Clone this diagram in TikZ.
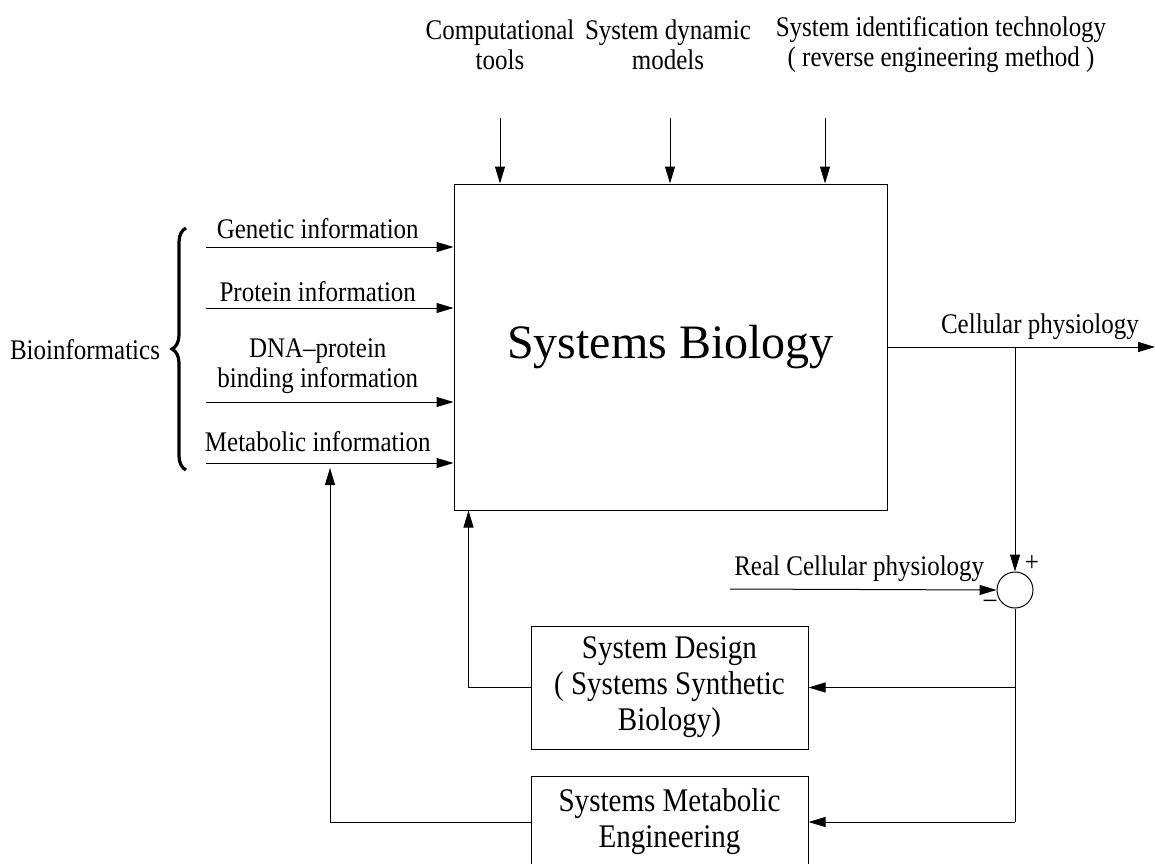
\documentclass[tikz,border=0pt]{standalone}
\usepackage{fontspec}
\setmainfont{Liberation Serif}
\newfontfamily\narrowserif{Liberation Serif}[FakeStretch=0.88, Ligatures=TeX]
\usetikzlibrary{arrows.meta, positioning, decorations.pathreplacing}

\begin{document}
\begin{tikzpicture}[x=0.5pt, y=-0.5pt, line width=0.5pt,
  >={Triangle[length=8.5pt, width=5pt]},
  lbl/.style={font=\narrowserif\fontsize{14.2}{15}\selectfont, align=center, inner sep=0pt},
  blk/.style={draw, inner sep=0pt, align=center, minimum width=138.5pt, font=\narrowserif\fontsize{16.5}{18}\selectfont}]
\clip (0,0) rectangle (1155,863);
\node[draw, inner sep=0pt, minimum width=216.5pt, minimum height=163pt, font=\fontsize{24}{28}\selectfont] (sysbio) at (670.5,347) {Systems Biology};

% inputs from the top
\node[lbl] (comp) at (500,45) {Computational\\tools};
\node[lbl] (dyn) at (668,45) {System dynamic\\models};
\node[lbl] (ident) at (941,45) {System identification technology\\( reverse engineering method )};
\coordinate (t1) at (500,118);
\coordinate (t2) at (670,118);
\coordinate (t3) at (825,118);
\draw [->] (t1) -- (t1 |- sysbio.north); 
\draw [->] (t2) -- (t2 |- sysbio.north); 
\draw [->] (t3) -- (t3 |- sysbio.north); 

% bioinformatics inputs
\coordinate (g1) at (206,247);
\coordinate (g2) at (206,308);
\coordinate (g3) at (206,402);
\coordinate (g4) at (206,463);
\draw [->] (g1) -- (g1 -| sysbio.west) node[lbl, midway, anchor=base, xshift=-6pt, yshift=4.5pt] {Genetic information};
\draw [->] (g2) -- (g2 -| sysbio.west) node[lbl, midway, anchor=base, xshift=-6pt, yshift=3.5pt] {Protein information};
\draw [->] (g3) -- (g3 -| sysbio.west) node[lbl, midway, xshift=-6pt, yshift=18pt] {DNA–protein\\binding information};
\draw [->] (g4) -- (g4 -| sysbio.west) node[lbl, midway, anchor=base, xshift=-6pt, yshift=6pt] {Metabolic information};
\draw [decorate, decoration={brace, amplitude=7pt}, line width=1.6pt] (186,470) -- (186,228);
\node[lbl] (bioinf) at (85,350) {Bioinformatics};

% output and comparison
\coordinate (out) at (1155,347);
\coordinate (tap) at (1015,347);
\draw [->] (sysbio.east) -- (out) node[lbl, pos=0.57, anchor=base, yshift=7pt] {Cellular physiology};
\node[draw, circle, inner sep=0pt, minimum size=18pt] (cmp) at (1015,590) {};
\draw [->] (tap) -- (cmp.north);
\node[lbl] (plus) at (1032,563) {+};
\node[lbl] (minus) at (990,604) {–};
\coordinate (real) at (730,589);
\draw [->] (real) -- (cmp.west) node[lbl, midway, anchor=base, xshift=-2pt, yshift=7pt] {Real Cellular physiology};

% feedback blocks
\node[blk, minimum height=61.5pt] (design) at (669.5,687.5) {System Design\\( Systems Synthetic\\Biology)};
\node[blk, minimum height=46pt] (metab) at (669.5,822) {Systems Metabolic\\Engineering};
\draw (cmp.south) -- (cmp.south |- metab.east);
\draw [->] (cmp.south |- design.east) -- (design.east);
\draw [->] (cmp.south |- metab.east) -- (metab.east);
\draw [->] (design.west) -| ([xshift=7.5pt]sysbio.south west);
\coordinate (mtip) at (330,468);
\draw [->] (metab.west) -| (mtip);
\end{tikzpicture}
\end{document}
